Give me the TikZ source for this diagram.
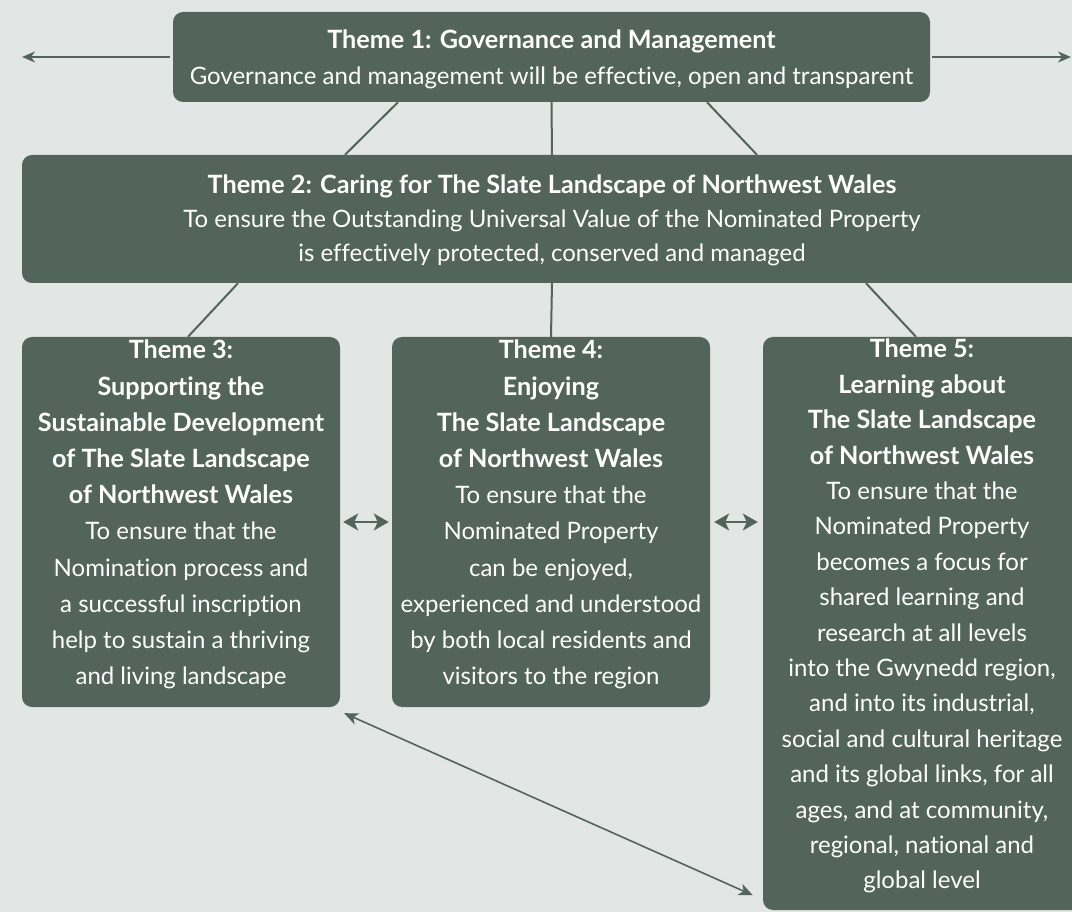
\documentclass[tikz,border=0pt]{standalone}
\usepackage{fontspec}
\setmainfont{Lato}[Ligatures={NoCommon}]
\usetikzlibrary{arrows.meta}
\definecolor{bgc}{HTML}{E2E6E5}
\definecolor{boxc}{HTML}{53645C}
\newcommand{\lowpad}{\rule[-19pt]{0pt}{0pt}}
\newcommand{\hd}[1]{{\fontsize{25.2}{30}\selectfont\bfseries #1}}
\tikzset{
  theme/.style={fill=boxc, rounded corners=10pt, text=white, align=center, inner sep=0pt},
  link/.style={draw=boxc, line width=2pt},
  sidetip/.style={-{Stealth[length=13pt,width=11pt,inset=4pt]}},
  duotip/.style={{Stealth[length=15pt,width=17pt,inset=4pt]}-{Stealth[length=15pt,width=17pt,inset=4pt]}},
  diagtip/.style={{Stealth[length=14pt,width=12pt,inset=4pt]}-{Stealth[length=14pt,width=12pt,inset=4pt]}},
}
\begin{document}
\begin{tikzpicture}[x=1pt,y=-1pt]
\useasboundingbox (0,0) rectangle (1072,912);
\clip (0,0) rectangle (1072,912);
\fill[bgc] (0,0) rectangle (1072,912);

\node[theme, minimum width=757pt, minimum height=90pt, font=\fontsize{24}{36}\selectfont] (t1) at (551.5,57)
  {\rule{0pt}{24pt}\hd{Theme 1: Governance and Management}\\Governance and management will be effective, open and transparent};

\node[theme, minimum width=1060pt, minimum height=128pt, font=\fontsize{24}{34}\selectfont] (t2) at (552,219)
  {\rule{0pt}{21pt}\hd{Theme 2: Caring for The Slate Landscape of Northwest Wales}\\To ensure the Outstanding Universal Value of the Nominated Property\\is effectively protected, conserved and managed};

\node[theme, minimum width=318pt, minimum height=370pt, font=\fontsize{24}{36.2}\selectfont] (t3) at (181,522)
  {\hd{Theme 3:}\\\hd{Supporting the}\\\hd{Sustainable Development}\\\hd{of The Slate Landscape}\\\hd{of Northwest Wales}\\To ensure that the\\Nomination process and\\a successful inscription\\help to sustain a thriving\\and living landscape\lowpad};

\node[theme, minimum width=318pt, minimum height=370pt, font=\fontsize{24}{36.2}\selectfont] (t4) at (551,522)
  {\hd{Theme 4:}\\\hd{Enjoying}\\\hd{The Slate Landscape}\\\hd{of Northwest Wales}\\To ensure that the\\Nominated Property\\can be enjoyed,\\experienced and understood\\by both local residents and\\visitors to the region\lowpad};

\node[theme, minimum width=318pt, minimum height=573pt, font=\fontsize{24}{35.4}\selectfont] (t5) at (922,623.5)
  {\hd{Theme 5:}\\\hd{Learning about}\\\hd{The Slate Landscape}\\\hd{of Northwest Wales}\\To ensure that the\\Nominated Property\\becomes a focus for\\shared learning and\\research at all levels\\into the Gwynedd region,\\and into its industrial,\\social and cultural heritage\\and its global links, for all\\ages, and at community,\\regional, national and\\global level\lowpad};

\coordinate (la) at (22,57);
\coordinate (ra) at (1071,57);

% side arrows
\draw[link, sidetip] ([xshift=-3pt]t1.west) -- (la);
\draw[link, sidetip] ([xshift=2pt]t1.east) -- (ra);

% theme 1 to theme 2
\draw[link] ([xshift=-153.5pt]t1.south) -- ([xshift=-207pt]t2.north);
\draw[link] (t1.south) -- (t2.north);
\draw[link] ([xshift=155.5pt]t1.south) -- ([xshift=205pt]t2.north);

% theme 2 to themes 3-5
\draw[link] ([xshift=-314pt]t2.south) -- ([xshift=7pt]t3.north);
\draw[link] (t2.south) -- (t4.north);
\draw[link] ([xshift=314pt]t2.south) -- ([xshift=-6pt]t5.north);

% double arrows between boxes
\draw[link, duotip] ([xshift=3pt]t3.east) -- ([xshift=-3pt]t4.west);
\draw[link, duotip] ([xshift=4pt]t4.east) -- ([xshift=-5pt,yshift=101.5pt]t5.west);

% diagonal
\draw[link, line width=1.6pt, diagtip] ([xshift=4pt,yshift=-6pt]t3.south east) -- ([xshift=-10pt,yshift=15pt]t5.south west);
\end{tikzpicture}
\end{document}
